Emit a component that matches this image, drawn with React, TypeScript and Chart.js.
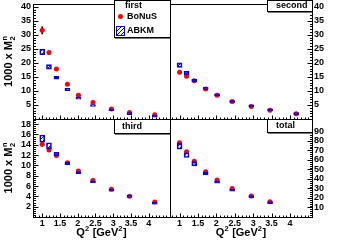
import React, { useEffect, useRef } from 'react';
import { Chart, registerables } from 'chart.js';

Chart.register(...registerables);

const FONT = '"Liberation Sans", Arial, Helvetica, sans-serif';
const W = 339;
const H = 241;
const X_MIN = 0.74;
const X_MAX = 4.6;

// Q^2 bin centres [GeV^2]
const q2Bins = [1.0, 1.19, 1.4, 1.71, 2.02, 2.43, 2.95, 3.46, 4.17];
const q2BinsTotal = [1.0, 1.19, 1.4, 1.71, 2.02, 2.43, 2.95, 3.46];

// tick labels
const xTickLabels = [1, 1.5, 2, 2.5, 3, 3.5, 4];
const yTicksFirst = [5, 10, 15, 20, 25, 30, 35, 40];
const yTicksSecond = [5, 10, 15, 20, 25, 30, 35, 40];
const yTicksThird = [2, 4, 6, 8, 10, 12, 14, 16, 18];
const yTicksTotal = [10, 20, 30, 40, 50, 60, 70, 80, 90];

// BoNuS (red points) and their errors
const bonusFirst = [31.6, 23.7, 17.8, 12.4, 8.5, 5.9, 3.6, 2.3, 1.5];
const bonusFirstErr = [1.3, 0.6, 0.5, 0.4, 0.3, 0.3, 0.2, 0.2, 0.2];
const bonusSecond = [16.7, 15.2, 13.6, 10.7, 8.5, 6.2, 4.5, 3.1, 1.9];
const bonusSecondErr = [0.6, 0.5, 0.4, 0.3, 0.3, 0.2, 0.2, 0.2, 0.2];
const bonusThird = [14.1, 13.0, 11.9, 10.5, 8.9, 7.1, 5.4, 4.0, 2.9];
const bonusThirdErr = [0.4, 0.3, 0.3, 0.2, 0.2, 0.2, 0.2, 0.2, 0.1];
const bonusTotal = [78.0, 68.5, 58.7, 47.5, 38.8, 30.0, 22.0, 16.0];
const bonusTotalErr = [1.5, 1.2, 1.0, 0.8, 0.7, 0.6, 0.5, 0.4];

// ABKM (blue boxes): central value and half height
const abkmFirst = [23.9, 18.6, 14.7, 10.5, 7.4, 4.8, 3.3, 1.9, 1.0];
const abkmFirstErr = [1.0, 0.8, 0.5, 0.4, 0.35, 0.35, 0.35, 0.35, 0.35];
const abkmSecond = [19.2, 16.4, 13.75, 10.9, 8.6, 6.25, 4.7, 3.3, 1.9];
const abkmSecondErr = [0.8, 0.6, 0.4, 0.35, 0.35, 0.35, 0.35, 0.35, 0.35];
const abkmThird = [15.2, 13.8, 12.2, 10.4, 8.6, 6.8, 5.2, 4.0, 2.7];
const abkmThirdErr = [0.7, 0.6, 0.35, 0.25, 0.22, 0.2, 0.2, 0.2, 0.2];
const abkmTotal = [74.5, 65.0, 56.0, 45.8, 36.7, 28.3, 21.3, 15.0];
const abkmTotalErr = [3.1, 2.5, 2.2, 1.5, 1.2, 1.1, 1.1, 1.1];

type Area = { l: number; t: number; r: number; b: number };
type Panel = {
  name: string;
  area: Area;
  yPos: 'left' | 'right';
  showX: boolean;
  yMax: number;
  yTicks: number[];
  yMinor: number;
  q2: number[];
  bonus: number[];
  bonusErr: number[];
  abkm: number[];
  abkmErr: number[];
  box: Area;
  textX: number;
};

const panels: Panel[] = [
  {
    name: 'first', area: { l: 33, t: 0, r: 170, b: 119 }, yPos: 'left', showX: false,
    yMax: 41, yTicks: yTicksFirst, yMinor: 1, q2: q2Bins,
    bonus: bonusFirst, bonusErr: bonusFirstErr, abkm: abkmFirst, abkmErr: abkmFirstErr,
    box: { l: 114, t: 0, r: 170, b: 37 }, textX: 125,
  },
  {
    name: 'second', area: { l: 170, t: 0, r: 312, b: 119 }, yPos: 'right', showX: false,
    yMax: 41, yTicks: yTicksSecond, yMinor: 1, q2: q2Bins,
    bonus: bonusSecond, bonusErr: bonusSecondErr, abkm: abkmSecond, abkmErr: abkmSecondErr,
    box: { l: 267, t: 0, r: 312, b: 11 }, textX: 276,
  },
  {
    name: 'third', area: { l: 33, t: 119, r: 170, b: 217 }, yPos: 'left', showX: true,
    yMax: 19, yTicks: yTicksThird, yMinor: 0.4, q2: q2Bins,
    bonus: bonusThird, bonusErr: bonusThirdErr, abkm: abkmThird, abkmErr: abkmThirdErr,
    box: { l: 114, t: 119, r: 170, b: 133 }, textX: 122,
  },
  {
    name: 'total', area: { l: 170, t: 119, r: 312, b: 217 }, yPos: 'right', showX: true,
    yMax: 103, yTicks: yTicksTotal, yMinor: 2, q2: q2BinsTotal,
    bonus: bonusTotal, bonusErr: bonusTotalErr, abkm: abkmTotal, abkmErr: abkmTotalErr,
    box: { l: 267, t: 119, r: 312, b: 132 }, textX: 276,
  },
];

const Y_AXIS_W_LEFT = 33;
const Y_AXIS_W_RIGHT = 27;
const X_AXIS_H = 24;

function drawYTitle(ctx: CanvasRenderingContext2D, cx: number, cy: number) {
  ctx.save();
  ctx.translate(cx, cy);
  ctx.rotate(-Math.PI / 2);
  ctx.fillStyle = '#000';
  ctx.textAlign = 'left';
  ctx.textBaseline = 'alphabetic';
  const main = '1000 x M';
  ctx.font = `bold 11px ${FONT}`;
  const wMain = ctx.measureText(main).width;
  ctx.font = `bold 7.5px ${FONT}`;
  const wScr = Math.max(ctx.measureText('n').width, ctx.measureText('2').width);
  let x = -(wMain + wScr + 0.5) / 2;
  ctx.font = `bold 11px ${FONT}`;
  ctx.fillText(main, x, 0);
  x += wMain + 0.5;
  ctx.font = `bold 7.5px ${FONT}`;
  ctx.fillText('n', x, -5);
  ctx.fillText('2', x, 3);
  ctx.restore();
}

function drawXTitle(ctx: CanvasRenderingContext2D, cx: number, baseY: number) {
  const parts: [string, boolean][] = [['Q', false], ['2', true], [' [GeV', false], ['2', true], [']', false]];
  const big = `bold 11px ${FONT}`;
  const small = `bold 7.5px ${FONT}`;
  ctx.save();
  ctx.fillStyle = '#000';
  ctx.textAlign = 'left';
  ctx.textBaseline = 'alphabetic';
  let total = 0;
  for (const [s, sup] of parts) {
    ctx.font = sup ? small : big;
    total += ctx.measureText(s).width + (sup ? 0.5 : 0);
  }
  let x = cx - total / 2;
  for (const [s, sup] of parts) {
    ctx.font = sup ? small : big;
    ctx.fillText(s, x, sup ? baseY - 5 : baseY);
    x += ctx.measureText(s).width + (sup ? 0.5 : 0);
  }
  ctx.restore();
}

function drawBox(ctx: CanvasRenderingContext2D, b: Area) {
  ctx.fillStyle = '#fff';
  ctx.fillRect(b.l, b.t, b.r - b.l, b.b - b.t);
  ctx.strokeStyle = '#000';
  ctx.lineWidth = 1;
  ctx.strokeRect(b.l + 0.5, b.t + 0.5, b.r - b.l, b.b - b.t);
  ctx.strokeStyle = '#777';
  ctx.beginPath();
  ctx.moveTo(b.l + 1, b.b + 1.5);
  ctx.lineTo(b.r, b.b + 1.5);
  ctx.stroke();
}

function drawDecor(chart: Chart, p: Panel, hatch: CanvasPattern | string) {
  const ctx = chart.ctx;
  const xs = chart.scales.x;
  const ys = chart.scales.y;
  const { left, right, top, bottom } = chart.chartArea;
  ctx.save();
  ctx.strokeStyle = '#000';
  ctx.lineWidth = 1;

  // frame
  ctx.strokeRect(left + 0.5, top + 0.5, right - left, bottom - top);

  // y ticks
  ctx.beginPath();
  const ax = p.yPos === 'left' ? left + 0.5 : right + 0.5;
  const dir = p.yPos === 'left' ? 1 : -1;
  for (const v of p.yTicks) {
    const y = Math.round(ys.getPixelForValue(v)) + 0.5;
    ctx.moveTo(ax, y);
    ctx.lineTo(ax + dir * 5, y);
  }
  const nMinor = Math.floor(p.yMax / p.yMinor + 1e-6);
  for (let i = 1; i <= nMinor; i++) {
    const y = Math.round(ys.getPixelForValue(i * p.yMinor)) + 0.5;
    ctx.moveTo(ax, y);
    ctx.lineTo(ax + dir * 2.5, y);
  }
  // x ticks
  const by = bottom + 0.5;
  for (const v of xTickLabels) {
    const x = Math.round(xs.getPixelForValue(v)) + 0.5;
    ctx.moveTo(x, by);
    ctx.lineTo(x, by - 4);
  }
  for (let i = 8; i <= 46; i++) {
    const v = i / 10;
    if (v < X_MIN || v > X_MAX) continue;
    const x = Math.round(xs.getPixelForValue(v)) + 0.5;
    ctx.moveTo(x, by);
    ctx.lineTo(x, by - 2);
  }
  ctx.stroke();

  // title box / legend
  drawBox(ctx, p.box);
  ctx.fillStyle = '#000';
  ctx.font = `bold 9px ${FONT}`;
  ctx.textAlign = 'left';
  ctx.textBaseline = 'middle';
  if (p.name === 'first') {
    ctx.fillText('first', p.textX, 5.5);
    ctx.fillText('BoNuS', 127, 16.5);
    ctx.fillText('ABKM', 127, 31);
    ctx.fillStyle = '#ff0000';
    ctx.beginPath();
    ctx.arc(120.5, 16.5, 2.5, 0, Math.PI * 2);
    ctx.fill();
    ctx.fillStyle = hatch as any;
    ctx.fillRect(116, 26, 9, 10);
    ctx.strokeStyle = '#0000ff';
    ctx.strokeRect(116.5, 26.5, 8, 9);
  } else {
    ctx.fillText(p.name, p.textX, (p.box.t + p.box.b) / 2 + 0.5);
  }

  if (p.yPos === 'left') drawYTitle(ctx, 12, (top + bottom) / 2);
  if (p.showX) drawXTitle(ctx, (left + right) / 2, 236);
  ctx.restore();
}

function makeHatch(ctx: CanvasRenderingContext2D): CanvasPattern | string {
  const c = document.createElement('canvas');
  c.width = 4;
  c.height = 4;
  const g = c.getContext('2d');
  if (!g) return '#8080ff';
  g.strokeStyle = '#0000ff';
  g.lineWidth = 1;
  g.beginPath();
  g.moveTo(0, 4);
  g.lineTo(4, 0);
  g.stroke();
  return ctx.createPattern(c, 'repeat') || '#8080ff';
}

function buildChart(canvas: HTMLCanvasElement, p: Panel): Chart {
  const ctx = canvas.getContext('2d') as CanvasRenderingContext2D;
  const hatch = makeHatch(ctx);
  const yW = p.yPos === 'left' ? Y_AXIS_W_LEFT : Y_AXIS_W_RIGHT;
  const xH = p.showX ? X_AXIS_H : 0;
  const padding = {
    left: p.yPos === 'left' ? p.area.l - yW : p.area.l,
    right: p.yPos === 'left' ? W - p.area.r : W - p.area.r - yW,
    top: p.area.t,
    bottom: H - p.area.b - xH,
  };
  const font = { family: FONT, size: 9, weight: 'bold' as const };
  const zeroPad = (s: any) => {
    s.paddingTop = 0;
    s.paddingBottom = 0;
    s.paddingLeft = 0;
    s.paddingRight = 0;
  };
  const fmt = (v: any) => String(v);

  return new Chart(ctx, {
    type: 'scatter',
    data: {
      datasets: [
        {
          type: 'bar',
          label: 'ABKM',
          data: p.q2.map((q, i) => ({ x: q, y: [p.abkm[i] - p.abkmErr[i], p.abkm[i] + p.abkmErr[i]] })),
          backgroundColor: hatch as any,
          borderColor: '#0000ff',
          borderWidth: 1,
          borderSkipped: false,
          barThickness: 5,
          grouped: false,
        } as any,
        {
          type: 'scatter',
          label: 'BoNuS',
          data: p.q2.map((q, i) => ({ x: q, y: p.bonus[i] })),
          pointRadius: 2.5,
          pointBackgroundColor: '#ff0000',
          pointBorderWidth: 0,
          pointBorderColor: '#ff0000',
        },
        {
          type: 'bar',
          label: 'BoNuS errors',
          data: p.q2.map((q, i) => ({ x: q, y: [p.bonus[i] - p.bonusErr[i], p.bonus[i] + p.bonusErr[i]] })),
          backgroundColor: '#000',
          borderWidth: 0,
          barThickness: 1,
          grouped: false,
        } as any,
      ],
    },
    options: {
      responsive: false,
      animation: false,
      events: [],
      layout: { padding },
      plugins: { legend: { display: false }, tooltip: { enabled: false }, title: { display: false } },
      scales: {
        x: {
          type: 'linear',
          position: 'bottom',
          min: X_MIN,
          max: X_MAX,
          offset: false,
          grid: { display: false, drawTicks: false, tickLength: 0 },
          border: { display: false },
          ticks: { display: p.showX, padding: 1, color: '#000', font, autoSkip: false, maxRotation: 0, minRotation: 0, callback: fmt },
          afterBuildTicks: (s: any) => { s.ticks = xTickLabels.map((v) => ({ value: v })); },
          afterFit: (s: any) => { s.height = xH; zeroPad(s); },
        },
        y: {
          type: 'linear',
          position: p.yPos,
          min: 0,
          max: p.yMax,
          grid: { display: false, drawTicks: false, tickLength: 0 },
          border: { display: false },
          ticks: { padding: 2, color: '#000', font, autoSkip: false, callback: fmt },
          afterBuildTicks: (s: any) => { s.ticks = p.yTicks.map((v) => ({ value: v })); },
          afterFit: (s: any) => { s.width = yW; zeroPad(s); },
        },
      },
    } as any,
    plugins: [
      {
        id: 'decor_' + p.name,
        afterDraw: (chart: Chart) => drawDecor(chart, p, hatch),
      },
    ],
  });
}

export default function App() {
  const refs = [useRef<HTMLCanvasElement>(null), useRef<HTMLCanvasElement>(null), useRef<HTMLCanvasElement>(null), useRef<HTMLCanvasElement>(null)];

  useEffect(() => {
    const charts: Chart[] = [];
    panels.forEach((p, i) => {
      const c = refs[i].current;
      if (c) charts.push(buildChart(c, p));
    });
    return () => charts.forEach((c) => c.destroy());
  }, []);

  return (
    <div style={{ position: 'fixed', left: 0, top: 0, width: W, height: H, background: '#fff' }}>
      {panels.map((p, i) => (
        <canvas
          key={p.name}
          ref={refs[i]}
          width={W}
          height={H}
          style={{ position: 'absolute', left: 0, top: 0, width: W, height: H }}
        />
      ))}
    </div>
  );
}
